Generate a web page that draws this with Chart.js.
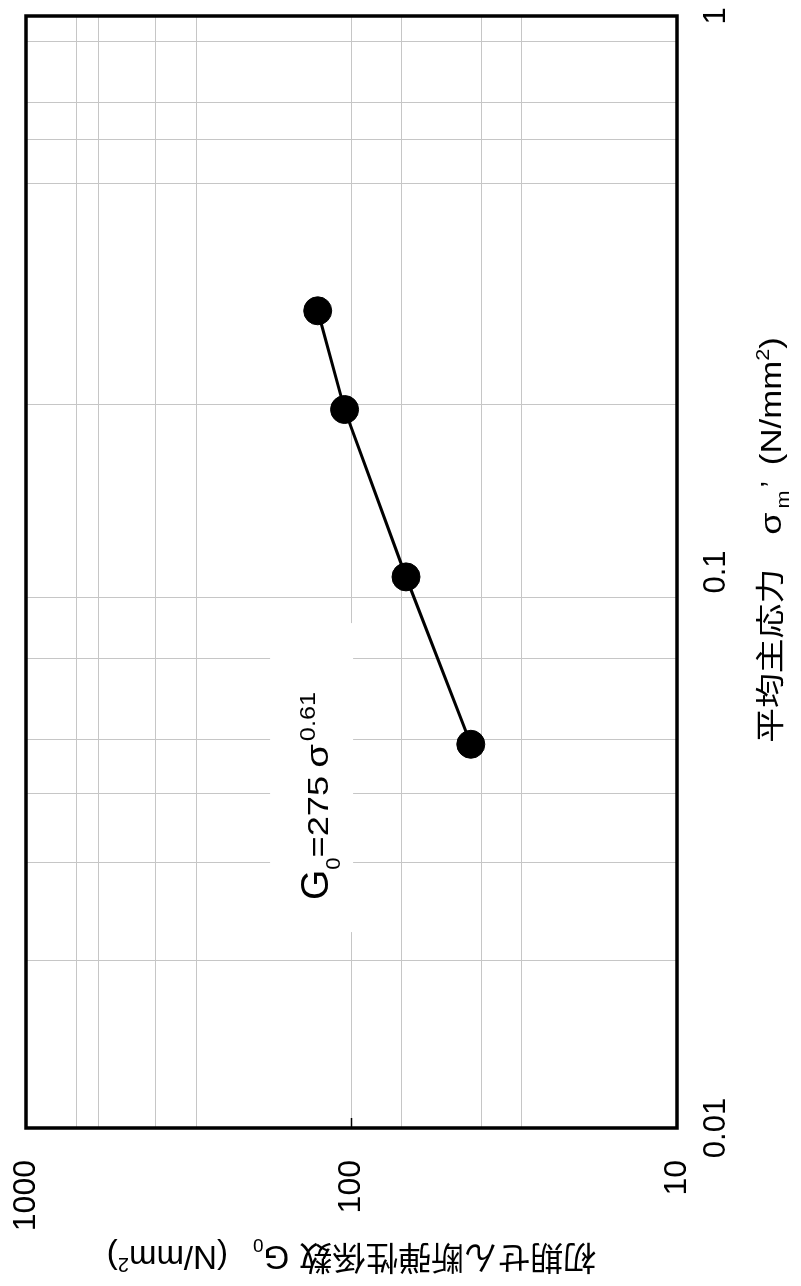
<!DOCTYPE html>
<html lang="ja">
<head>
<meta charset="UTF-8">
<title>G0 - sigma m</title>
<script src="https://cdn.jsdelivr.net/npm/chart.js"></script>
<style>
  html, body { margin: 0; padding: 0; overflow: hidden; background: #fff; }
  /* the figure is printed turned a quarter turn, so the chart is drawn upright and the box is rotated */
  #wrap {
    position: absolute; left: 0; top: 0;
    width: 1286px; height: 801px;
    transform-origin: 0 0;
    transform: translateY(1286px) rotate(-90deg);
  }
</style>
</head>
<body>
<div id="wrap"><canvas id="chart" width="1286" height="801"></canvas></div>
<script>
// measured points
const sigmaM = [0.295, 0.196, 0.098, 0.049];
const g0Vals = [127, 105, 68, 43];

// labelled ticks
const sigmaLabels = [0.01, 0.1, 1];
const g0Labels = [10, 100, 1000];

// grid lines that show in the figure
const sigmaGrid = [0.02, 0.03, 0.04, 0.05, 0.07, 0.09, 0.2, 0.5, 0.6, 0.7, 0.9];
const g0Grid = [30, 40, 70, 100, 300, 400, 600, 700];

// where the fitted equation text starts (sigma, G0)
const noteAt = { sigma: 0.0257, g0: 118 };

const SANS = '"Liberation Sans", Arial, sans-serif';
const CJK = '"Noto Sans CJK JP", sans-serif';
const GRID = '#c6c6c6';

// draws text pieces one after another, returns total width
function runs(ctx, list, x, y, dry) {
    let cx = x;
    for (const r of list) {
        cx += r.pre || 0;
        ctx.save();
        ctx.font = r.size + 'px ' + (r.family || SANS);
        const sx = r.sx || 1;
        if (!dry) {
            ctx.translate(cx, y + (r.dy || 0));
            ctx.scale(sx, 1);
            ctx.fillText(r.t, 0, 0);
        }
        cx += ctx.measureText(r.t).width * sx;
        ctx.restore();
    }
    return cx - x;
}

const xTitle = [
    { t: '平均主応力', size: 29, family: CJK, sx: 1.2 },
    { t: 'σ', size: 30, sx: 1.2, pre: 34 },
    { t: 'm', size: 18, dy: 8, sx: 1.2, pre: 4 },
    { t: '’', size: 29, pre: 3 },
    { t: '(N/mm', size: 29, sx: 1.2, pre: 16 },
    { t: '2', size: 18, dy: -12, sx: 1.2 },
    { t: ')', size: 29, sx: 1.2 }
];

const yTitle = [
    { t: '初期せん断弾性係数', size: 33, family: CJK },
    { t: 'G', size: 33, pre: 10 },
    { t: '0', size: 19, dy: 7 },
    { t: '(N/mm', size: 33, pre: 25 },
    { t: '2', size: 20, dy: -12 },
    { t: ')', size: 33 }
];

const note = [
    { t: 'G', size: 39 },
    { t: '0', size: 20, dy: 12, sx: 1.1 },
    { t: '=275', size: 29, sx: 1.25 },
    { t: 'σ', size: 32, sx: 1.2, pre: 8 },
    { t: '0.61', size: 22, dy: -13, sx: 1.15, pre: 3 }
];

const textPlugin = {
    id: 'figureText',
    beforeDatasetsDraw(chart) {
        // white box behind the equation
        const { ctx, scales } = chart;
        const u = scales.x.getPixelForValue(noteAt.sigma);
        const v = scales.y.getPixelForValue(noteAt.g0);
        ctx.save();
        ctx.fillStyle = '#fff';
        ctx.fillRect(u - 32, v - 58, 309, 83);
        ctx.restore();
    },
    afterDraw(chart) {
        const { ctx, chartArea: a, scales } = chart;
        ctx.save();
        ctx.fillStyle = '#000';
        ctx.textBaseline = 'alphabetic';

        // equation
        const u = scales.x.getPixelForValue(noteAt.sigma);
        const v = scales.y.getPixelForValue(noteAt.g0);
        runs(ctx, note, u, v);

        // x axis title
        const wx = runs(ctx, xTitle, 0, 0, true);
        const cx = (a.left + a.right) / 2 + 32;
        runs(ctx, xTitle, cx - wx / 2, a.bottom + 104);

        // y axis title
        const wy = runs(ctx, yTitle, 0, 0, true);
        ctx.save();
        ctx.translate(a.left - 118, (a.top + a.bottom) / 2);
        ctx.rotate(-Math.PI / 2);
        runs(ctx, yTitle, -wy / 2, 0);
        ctx.restore();

        // frame
        ctx.strokeStyle = '#000';
        ctx.lineWidth = 3.5;
        ctx.strokeRect(a.left, a.top, a.right - a.left, a.bottom - a.top);

        // small inside tick marks on the G0 axis
        ctx.lineWidth = 1.5;
        g0Labels.forEach(g => {
            const py = scales.y.getPixelForValue(g);
            ctx.beginPath();
            ctx.moveTo(a.left, py);
            ctx.lineTo(a.left + 10, py);
            ctx.stroke();
        });
        ctx.restore();
    }
};

function tickList(labels, grid) {
    return [...new Set([...labels, ...grid])].sort((p, q) => p - q).map(v => ({ value: v }));
}

function noEdgePadding(s) {
    s.paddingTop = 0;
    s.paddingBottom = 0;
    s.paddingLeft = 0;
    s.paddingRight = 0;
}

Chart.defaults.font.family = SANS;
Chart.defaults.color = '#000';

new Chart(document.getElementById('chart'), {
    type: 'scatter',
    data: {
        datasets: [{
            data: sigmaM.map((s, i) => ({ x: s, y: g0Vals[i] })),
            showLine: true,
            borderColor: '#000',
            borderWidth: 3,
            pointRadius: 14,
            pointBackgroundColor: '#000',
            pointBorderColor: '#000',
            pointBorderWidth: 1
        }]
    },
    options: {
        responsive: false,
        animation: false,
        devicePixelRatio: 1,
        layout: { padding: { top: 26, right: 16, left: 0, bottom: 0 } },
        plugins: {
            legend: { display: false },
            tooltip: { enabled: false }
        },
        scales: {
            x: {
                type: 'logarithmic',
                min: 0.01,
                max: 1,
                afterBuildTicks: s => { s.ticks = tickList(sigmaLabels, sigmaGrid); },
                afterFit: s => { s.height = 124; noEdgePadding(s); },
                border: { display: false },
                grid: {
                    drawTicks: false,
                    lineWidth: 1,
                    color: c => (c.tick && sigmaGrid.includes(c.tick.value)) ? GRID : 'rgba(0,0,0,0)'
                },
                ticks: {
                    autoSkip: false,
                    maxRotation: 0,
                    minRotation: 0,
                    padding: 21,
                    font: { size: 31 },
                    callback: v => sigmaLabels.includes(v) ? String(v) : ''
                }
            },
            y: {
                type: 'logarithmic',
                min: 10,
                max: 1000,
                afterBuildTicks: s => { s.ticks = tickList(g0Labels, g0Grid); },
                afterFit: s => { s.width = 158; noEdgePadding(s); },
                border: { display: false },
                grid: {
                    drawTicks: false,
                    lineWidth: 1,
                    color: c => (c.tick && g0Grid.includes(c.tick.value)) ? GRID : 'rgba(0,0,0,0)'
                },
                ticks: {
                    autoSkip: false,
                    padding: 32,
                    font: { size: 32 },
                    callback: v => g0Labels.includes(v) ? String(v) : ''
                }
            }
        }
    },
    plugins: [textPlugin]
});
</script>
</body>
</html>
